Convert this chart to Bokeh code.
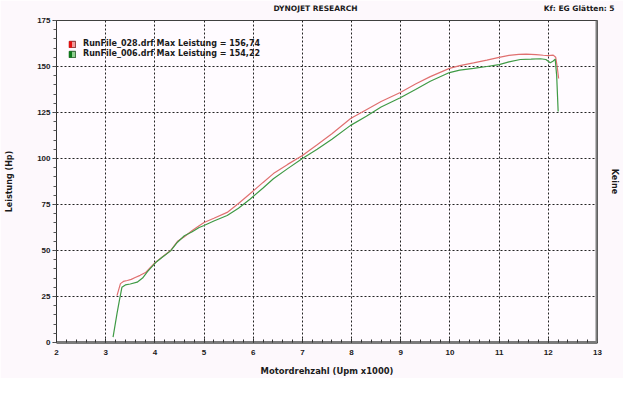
from bokeh.plotting import figure
from bokeh.models import (ColumnDataSource, FixedTicker, LinearAxis, Range1d, Span,
                          Legend, LegendItem)
from bokeh.embed import file_html
from bokeh.resources import INLINE

# ---- data (rpm x1000, power in Hp) ----
rpm_028 = [3.23, 3.30, 3.36, 3.44, 3.52, 3.60, 3.70, 3.81, 3.90, 4.01, 4.15, 4.32, 4.46,
           4.60, 4.76, 4.90, 5.00, 5.20, 5.47, 5.70, 5.94, 6.20, 6.41, 6.70, 7.00, 7.30,
           7.60, 7.98, 8.30, 8.60, 8.99, 9.30, 9.60, 9.99, 10.20, 10.48, 10.75, 11.00,
           11.20, 11.40, 11.55, 11.75, 11.90, 12.00, 12.10, 12.15, 12.18, 12.21]
hp_028 = [25.5, 32.0, 33.2, 33.7, 34.3, 35.3, 36.5, 38.0, 40.5, 43.5, 46.5, 50.0, 55.0,
          57.5, 60.9, 63.5, 65.2, 67.5, 70.7, 75.5, 81.0, 87.0, 91.8, 96.8, 101.6, 107.5,
          113.5, 121.7, 126.5, 131.0, 135.9, 140.5, 144.5, 149.0, 150.5, 152.0, 153.5,
          155.0, 156.0, 156.6, 156.74, 156.5, 156.1, 155.9, 156.2, 155.0, 150.0, 143.5]

rpm_006 = [3.15, 3.23, 3.28, 3.33, 3.40, 3.50, 3.64, 3.75, 3.85, 4.01, 4.15, 4.32, 4.46,
           4.60, 4.76, 4.90, 5.00, 5.20, 5.47, 5.70, 5.94, 6.20, 6.41, 6.70, 7.00, 7.30,
           7.60, 7.98, 8.30, 8.60, 8.99, 9.30, 9.60, 9.99, 10.20, 10.48, 10.75, 11.00,
           11.20, 11.43, 11.65, 11.84, 11.95, 12.04, 12.10, 12.14, 12.17, 12.19, 12.20]
hp_006 = [2.9, 15.7, 23.0, 30.0, 31.3, 31.8, 32.8, 35.0, 38.5, 43.3, 46.3, 49.8, 54.5,
          58.0, 60.2, 62.5, 63.6, 66.0, 69.0, 73.0, 78.0, 84.0, 89.0, 94.5, 100.0, 105.0,
          110.5, 118.0, 123.0, 128.0, 133.0, 137.5, 142.0, 146.7, 148.0, 149.0, 150.0,
          151.0, 152.5, 153.8, 154.0, 154.22, 153.8, 152.0, 153.0, 154.0, 145.0, 132.0, 125.5]

series_names = ["RunFile_028.drf Max Leistung = 156,74",
                "RunFile_006.drf Max Leistung = 154,22"]
header_texts = ["DYNOJET RESEARCH", "Kf: EG  Glätten: 5"]
x_ticks = list(range(2, 14))
y_ticks = [0, 25, 50, 75, 100, 125, 150, 175]
X0, X1 = 2, 13
Y0, Y1 = 0, 175

FONT = "DejaVu Sans"
TFONT = "Liberation Sans"
TXT = "#1a1a1a"

p = figure(width=623, height=378, output_backend="svg", toolbar_location=None,
           title=None,
           x_range=Range1d(X0, X1), y_range=Range1d(Y0, Y1),
           min_border_left=56, min_border_right=26, min_border_top=20, min_border_bottom=36)
p.border_fill_color = "#fdf8fc"
p.background_fill_color = "#fffbff"
p.outline_line_color = "#404040"
p.outline_line_width = 1

# x axis
xa = p.xaxis[0]
xa.ticker = FixedTicker(ticks=x_ticks, minor_ticks=[X0 + i * 0.2 for i in range(56)])
xa.axis_line_color = "#7a7a7a"
xa.axis_line_width = 3
xa.major_tick_in = 4
xa.major_tick_out = 0
xa.minor_tick_in = 3
xa.minor_tick_out = 0
xa.major_tick_line_color = "#333333"
xa.minor_tick_line_color = "#333333"
xa.major_label_text_font = TFONT
xa.major_label_text_font_style = "bold"
xa.major_label_text_font_size = "8px"
xa.major_label_text_color = TXT
xa.major_label_standoff = 7
xa.axis_label = "Motordrehzahl (Upm x1000)"
xa.axis_label_text_font = FONT
xa.axis_label_text_font_style = "bold"
xa.axis_label_text_font_size = "8.4px"
xa.axis_label_text_color = TXT
xa.axis_label_standoff = 8

# y axis
ya = p.yaxis[0]
ya.ticker = FixedTicker(ticks=y_ticks, minor_ticks=list(range(0, 176, 5)))
ya.axis_line_color = "#333333"
ya.axis_line_width = 1
ya.major_tick_in = 0
ya.major_tick_out = 4
ya.minor_tick_in = 0
ya.minor_tick_out = 3
ya.major_tick_line_color = "#333333"
ya.minor_tick_line_color = "#555555"
ya.major_label_text_font = TFONT
ya.major_label_text_font_style = "bold"
ya.major_label_text_font_size = "8px"
ya.major_label_text_color = TXT
ya.major_label_standoff = 2
ya.axis_label = "Leistung (Hp)"
ya.axis_label_text_font = FONT
ya.axis_label_text_font_style = "bold"
ya.axis_label_text_font_size = "8px"
ya.axis_label_text_color = TXT
ya.axis_label_standoff = 20

# right axis with only a label
ra = LinearAxis(ticker=FixedTicker(ticks=[]), axis_label="Keine",
                axis_line_color=None, major_tick_line_color=None, minor_tick_line_color=None,
                major_tick_out=0, major_tick_in=0, minor_tick_out=0, minor_tick_in=0,
                axis_label_text_font=FONT, axis_label_text_font_style="bold",
                axis_label_text_font_size="8px", axis_label_text_color=TXT,
                axis_label_standoff=12)
p.add_layout(ra, "right")

# header line (above axis whose two tick labels carry the header texts)
hx = [7.266, 12.654]
ta = LinearAxis(ticker=FixedTicker(ticks=hx),
                major_label_overrides={hx[0]: header_texts[0], hx[1]: header_texts[1]},
                axis_line_color=None, major_tick_line_color=None, minor_tick_line_color=None,
                major_tick_out=0, major_tick_in=0, minor_tick_out=0, minor_tick_in=0,
                major_label_text_font=FONT, major_label_text_font_style="bold",
                major_label_text_font_size="7.5px", major_label_text_color=TXT,
                major_label_standoff=8)
p.add_layout(ta, "above")

# grid
for g in (p.xgrid[0], p.ygrid[0]):
    g.grid_line_color = "#222222"
    g.grid_line_dash = "2 2"
    g.grid_line_width = 1
p.xgrid[0].ticker = FixedTicker(ticks=x_ticks)
p.ygrid[0].ticker = FixedTicker(ticks=y_ticks)

# right shadow border
p.add_layout(Span(location=X1, dimension="height", line_color="#808080", line_width=4))

# curves
r1 = p.line(rpm_028, hp_028, line_color="#e07070", line_width=1.2)
r2 = p.line(rpm_006, hp_006, line_color="#3f9a45", line_width=1.2)

# legend swatches: hidden quads outside the visible x range
off = X1 + 5
def swatch(fill, line):
    src = ColumnDataSource(data=dict(l=[off], r=[off + 1], t=[Y0], b=[Y0]))
    return p.quad(left="l", right="r", top="t", bottom="b", source=src,
                  fill_color=fill, line_color=line)

light = [swatch("#f29a9a", "#803030"), swatch("#8fcf8f", "#2f5a2f")]
dark = [swatch("#e60f0f", None), swatch("#0d7a1a", None)]
leg_y = [294, 284]

for i in range(2):
    common = dict(glyph_width=8, glyph_height=8, label_height=8, label_standoff=7,
                  spacing=0, padding=0, margin=0, label_text_font=FONT,
                  label_text_font_style="bold", label_text_font_size="8px",
                  label_text_color=TXT, background_fill_alpha=0, border_line_color=None)
    p.add_layout(Legend(items=[LegendItem(label=series_names[i], renderers=[light[i]])],
                        location=(12, leg_y[i]), **common), "center")
    c2 = dict(common)
    c2["glyph_width"] = 4
    p.add_layout(Legend(items=[LegendItem(label=" ", renderers=[dark[i]])],
                        location=(12, leg_y[i]), **c2), "center")

open("out.html", "w").write(file_html(p, INLINE))
